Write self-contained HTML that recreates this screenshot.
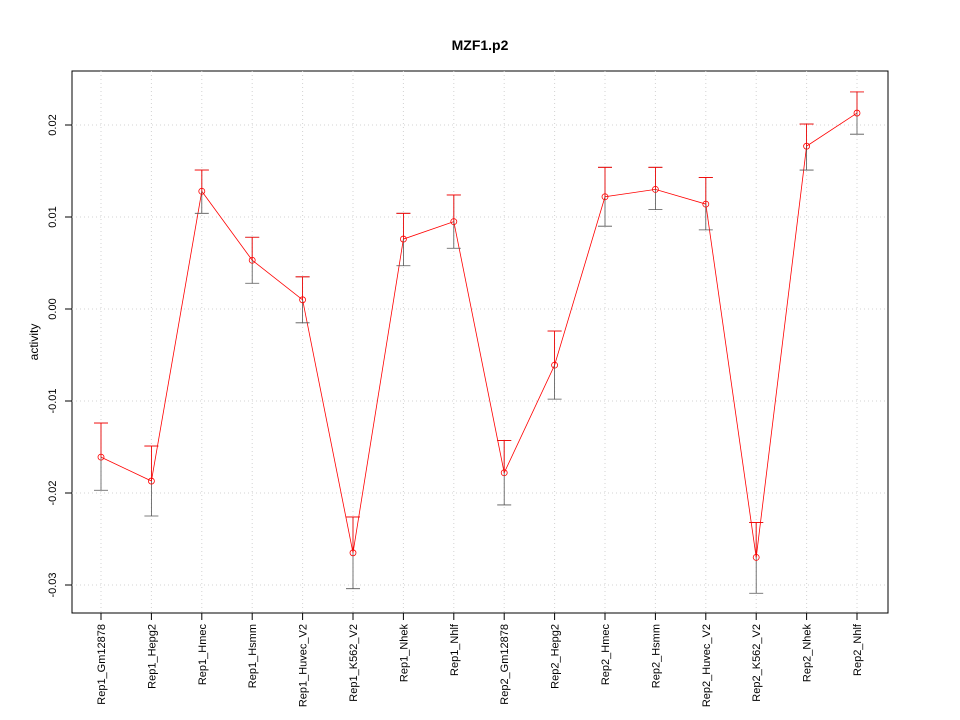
<!DOCTYPE html>
<html><head><meta charset="utf-8"><style>body{margin:0;background:#fff}svg{display:block;font-family:"Liberation Sans",sans-serif}</style></head>
<body>
<svg id="chart" width="960" height="720">
<text x="480" y="50" text-anchor="middle" font-weight="bold" font-size="14">MZF1.p2</text>
<text transform="translate(38,342) rotate(-90)" text-anchor="middle" font-size="12">activity</text>
<rect x="72" y="71" width="816" height="542" fill="none" stroke="#000"/>
<g id="grid"></g><g id="axes"></g><g id="series"></g>
</svg>
<script>
const categories=["Rep1_Gm12878","Rep1_Hepg2","Rep1_Hmec","Rep1_Hsmm","Rep1_Huvec_V2","Rep1_K562_V2","Rep1_Nhek","Rep1_Nhlf","Rep2_Gm12878","Rep2_Hepg2","Rep2_Hmec","Rep2_Hsmm","Rep2_Huvec_V2","Rep2_K562_V2","Rep2_Nhek","Rep2_Nhlf"];
const values=[-0.0161,-0.0187,0.0128,0.0053,0.0010,-0.0265,0.0076,0.0095,-0.0178,-0.0061,0.0122,0.0130,0.0114,-0.0270,0.0177,0.0213];
const upper=[-0.0124,-0.0149,0.0151,0.0078,0.0035,-0.0226,0.0104,0.0124,-0.0143,-0.0024,0.0154,0.0154,0.0143,-0.0232,0.0201,0.0236];
const lower=[-0.0197,-0.0225,0.0104,0.0028,-0.0015,-0.0304,0.0047,0.0066,-0.0213,-0.0098,0.0090,0.0108,0.0086,-0.0309,0.0151,0.0190];
const yTicks=[-0.03,-0.02,-0.01,0.00,0.01,0.02];
const yTickLabels=["-0.03","-0.02","-0.01","0.00","0.01","0.02"];
const NS="http://www.w3.org/2000/svg";
const x=i=>101+i*(857-101)/(categories.length-1);
const y=v=>309-v*9200;
function mk(t,a,p){const e=document.createElementNS(NS,t);for(const k in a)e.setAttribute(k,a[k]);p.appendChild(e);return e;}
const grid=document.getElementById('grid'),axes=document.getElementById('axes'),ser=document.getElementById('series');
categories.forEach((c,i)=>{
 const g=mk('line',{x1:x(i),x2:x(i),y1:71,y2:613,stroke:'#d3d3d3','stroke-dasharray':'1,3'},grid);
 
 
 const t=mk('line',{x1:x(i),x2:x(i),y1:613,y2:620,stroke:'#000'},axes);
 
 
 const l=mk('text',{transform:`translate(${x(i)+4},624) rotate(-90)`,'text-anchor':'end','font-size':11},axes);
 l.textContent=c;
 
 
});
yTicks.forEach((v,i)=>{
 const g=mk('line',{x1:72,x2:888,y1:y(v),y2:y(v),stroke:'#d3d3d3','stroke-dasharray':'1,3'},grid);
 
 
 const t=mk('line',{x1:65,x2:72,y1:y(v),y2:y(v),stroke:'#000'},axes);
 
 
 const l=mk('text',{transform:`translate(56,${y(v)}) rotate(-90)`,'text-anchor':'middle','font-size':11},axes);
 l.textContent=yTickLabels[i];
 
 
});
const pl=mk('polyline',{points:values.map((v,i)=>x(i)+','+y(v)).join(' '),fill:'none',stroke:'#f00','stroke-width':0.8},ser);


values.forEach((v,i)=>{
 const eb=mk('path',{d:`M${x(i)},${y(upper[i])}V${y(lower[i])}M${x(i)-7},${y(upper[i])}H${x(i)+7}M${x(i)-7},${y(lower[i])}H${x(i)+7}`,stroke:'#555',fill:'none','stroke-width':0.8},ser);
 
 
 const eb2=mk('path',{d:`M${x(i)},${y(upper[i])}V${y(v)}M${x(i)-7},${y(upper[i])}H${x(i)+7}`,stroke:'#f00',fill:'none','stroke-width':0.8},ser);
 
 
 const p=mk('circle',{cx:x(i),cy:y(v),r:3,fill:'none',stroke:'#f00','stroke-width':0.8},ser);
 
 
});
</script>
</body></html>
